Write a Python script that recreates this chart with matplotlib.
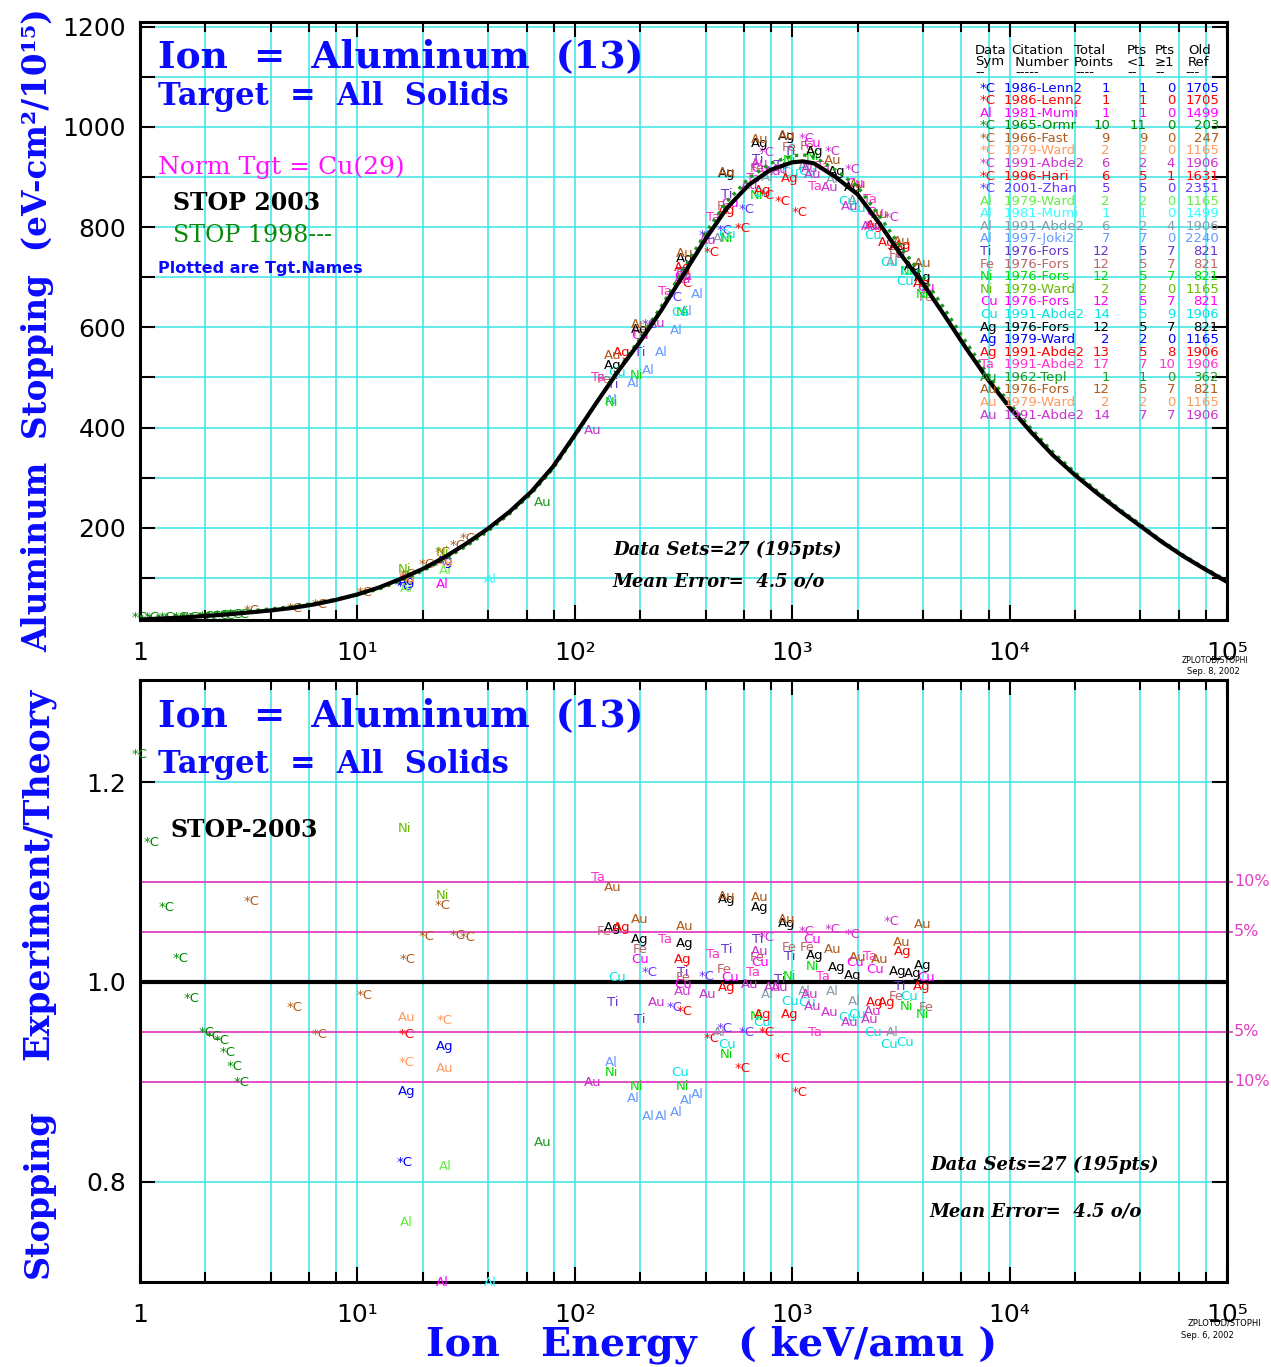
import numpy as np
import matplotlib
matplotlib.use("Agg")
import matplotlib.pyplot as plt
from matplotlib.ticker import FixedLocator, FixedFormatter, NullFormatter

# ------------------------------------------------------------------ data
# theory curves (keV/amu , eV-cm2/1e15)
theory_E = [1, 1.26, 1.58, 2, 2.51, 3.16, 3.98, 5.01, 6.31, 7.94,
            10, 12.6, 15.8, 20, 25.1, 31.6, 39.8, 50.1, 63.1, 79.4,
            100, 126, 158, 200, 251, 316, 398, 501, 631, 794,
            1000, 1120, 1260, 1580, 2000, 2510, 3160, 3980, 5010, 6310, 7940,
            10000, 12600, 15800, 20000, 25100, 31600, 39800, 50100, 63100,
            79400, 100000]
stop2003 = [17, 19, 21, 24, 27, 31, 35, 40, 47, 56,
            67, 81, 98, 118, 141, 168, 198, 232, 272, 322,
            385, 450, 512, 572, 635, 705, 775, 838, 884, 914,
            929, 931, 927, 900, 865, 808, 745, 688, 624, 558, 496,
            440, 390, 345, 305, 270, 236, 204, 172, 143,
            117, 92]
stop1998 = [22, 24, 26, 28, 31, 34, 38, 43, 49, 57,
            66, 78, 94, 114, 137, 163, 193, 228, 268, 318,
            382, 450, 515, 578, 643, 715, 787, 851, 897, 927,
            942, 944, 940, 914, 880, 823, 760, 702, 637, 570, 506,
            448, 397, 351, 310, 274, 239, 207, 174, 145,
            119, 94]

# data sets (legend table)
set_sym = ["*C", "*C", "Al", "*C", "*C", "*C", "*C", "*C", "*C", "Al", "Al",
           "Al", "Al", "Ti", "Fe", "Ni", "Ni", "Cu", "Cu", "Ag", "Ag", "Ag",
           "Ta", "Au", "Au", "Au", "Au"]
set_cite = ["1986-Lenn2", "1986-Lenn2", "1981-Mumi", "1965-Ormr", "1966-Fast",
            "1979-Ward", "1991-Abde2", "1996-Hari", "2001-Zhan", "1979-Ward",
            "1981-Mumi", "1991-Abde2", "1997-Joki2", "1976-Fors", "1976-Fors",
            "1976-Fors", "1979-Ward", "1976-Fors", "1991-Abde2", "1976-Fors",
            "1979-Ward", "1991-Abde2", "1991-Abde2", "1962-Tepl", "1976-Fors",
            "1979-Ward", "1991-Abde2"]
set_total = [1, 1, 1, 10, 9, 2, 6, 6, 5, 2, 1, 6, 7, 12, 12, 12, 2, 12, 14,
             12, 2, 13, 17, 1, 12, 2, 14]
set_lt1 = [1, 1, 1, 11, 9, 2, 2, 5, 5, 2, 1, 2, 7, 5, 5, 5, 2, 5, 5, 5, 2, 5,
           7, 1, 5, 2, 7]
set_ge1 = [0, 0, 0, 0, 0, 0, 4, 1, 0, 0, 0, 4, 0, 7, 7, 7, 0, 7, 9, 7, 0, 8,
           10, 0, 7, 0, 7]
set_ref = [1705, 1705, 1499, 203, 247, 1165, 1906, 1631, 2351, 1165, 1499,
           1906, 2240, 821, 821, 821, 1165, 821, 1906, 821, 1165, 1906, 1906,
           362, 821, 1165, 1906]
set_color = ["#0000ff", "#ff0000", "#ff00ff", "#008800", "#b05a1a", "#ff9a60",
             "#cc33cc", "#ff0000", "#6633ff", "#66ee44", "#33ffff", "#8a9aaa",
             "#6699ff", "#6633cc", "#bb6666", "#00dd00", "#66bb00", "#ff00ff",
             "#00e5e5", "#000000", "#0000ff", "#ff0000", "#ff33cc", "#229922",
             "#b05a1a", "#ff9a60", "#cc33cc"]

# measured points: energy (keV/amu) and experiment/theory ratio, per data set
pts_E = [
    [16.5],
    [16.8],
    [24.7],
    [1.0, 1.135, 1.33, 1.53, 1.73, 2.03, 2.17, 2.38, 2.54, 2.73, 2.94],
    [3.27, 5.16, 6.72, 10.8, 17.0, 20.8, 24.7, 29.0, 32.2],
    [16.8, 25.3],
    [764, 1166, 1535, 1897, 2866],
    [427, 764, 592, 904, 1082, 320],
    [221, 405, 489, 618, 288],
    [25.3, 16.8],
    [40.7],
    [771, 1141, 1535, 464, 1938, 2898],
    [148, 185, 217, 251, 294, 327, 368],
    [500, 314, 694, 877, 974, 149.5, 199, 3120],
    [137, 199, 314, 489, 687, 974, 1178, 3020, 4150],
    [974, 1243, 687, 500, 148, 193, 314, 3981, 3360],
    [16.5, 24.7],
    [199, 314, 516, 709, 1230, 1938, 2395, 4150],
    [156, 974, 1166, 731, 500, 304, 1781, 1980, 2345, 2806, 3290, 3468],
    [500, 709, 149.5, 199, 320, 944, 1268, 1603, 1897, 3981, 3055, 3581],
    [25.3, 16.8],
    [164, 314, 500, 974, 731, 2395, 2718, 3222, 3939],
    [127.6, 259, 431, 658, 1268, 2271, 1381],
    [71.2],
    [149.5, 500, 709, 199, 320, 944, 1535, 2000, 2524, 3981, 3187],
    [16.8, 25.3],
    [314, 409, 638, 813, 238, 121, 877, 1203, 1243, 1487, 2345, 1837, 2271, 709],
]
pts_R = [
    [0.820],
    [0.948],
    [0.63],
    [1.227, 1.139, 1.074, 1.023, 0.983, 0.949, 0.945, 0.941, 0.930, 0.915, 0.900],
    [1.080, 0.974, 0.948, 0.986, 1.022, 1.045, 1.076, 1.046, 1.044],
    [0.920, 0.961],
    [1.044, 1.050, 1.052, 1.047, 1.060],
    [0.944, 0.950, 0.914, 0.923, 0.890, 0.970],
    [1.009, 1.005, 0.954, 0.949, 0.974],
    [0.815, 0.760],
    [0.48],
    [0.987, 0.990, 0.990, 0.950, 0.980, 0.949],
    [0.919, 0.884, 0.865, 0.865, 0.869, 0.882, 0.887],
    [1.032, 1.009, 1.042, 1.002, 1.025, 0.979, 0.962, 0.995],
    [1.050, 1.032, 1.004, 1.012, 1.024, 1.034, 1.034, 0.985, 0.974],
    [1.005, 1.015, 0.965, 0.927, 0.910, 0.895, 0.895, 0.967, 0.975],
    [1.154, 1.086],
    [1.022, 0.997, 1.004, 1.019, 1.042, 1.019, 1.012, 1.004],
    [1.004, 0.980, 0.979, 0.959, 0.937, 0.909, 0.964, 0.967, 0.950, 0.937, 0.940, 0.985],
    [1.082, 1.075, 1.054, 1.042, 1.039, 1.059, 1.027, 1.014, 1.007, 1.017, 1.010, 1.009],
    [0.935, 0.890],
    [1.054, 1.022, 0.994, 0.967, 0.967, 0.979, 0.979, 1.030, 0.995],
    [1.104, 1.042, 1.027, 1.009, 0.950, 1.025, 1.005],
    [0.840],
    [1.094, 1.085, 1.084, 1.062, 1.055, 1.062, 1.032, 1.024, 1.022, 1.057, 1.039],
    [0.964, 0.914],
    [0.990, 0.987, 0.997, 0.994, 0.979, 0.900, 0.994, 0.987, 0.975, 0.969, 0.970, 0.959, 0.962, 1.030],
]

dev_levels = [0.05, 0.10]
x_tick_vals = [1, 10, 100, 1000, 10000, 100000]
x_tick_labels = ["1", "10\u00b9", "10\u00b2", "10\u00b3", "10\u2074", "10\u2075"]
top_ytick_vals = [200, 400, 600, 800, 1000, 1200]
bot_ytick_vals = [0.8, 1.0, 1.2]
bot_ytick_labels = ["0.8", "1.0", "1.2"]

# ------------------------------------------------------------------ figure
W, H = 1271, 1367
fig = plt.figure(figsize=(W / 100, H / 100), dpi=100)
plt.rcParams['font.family'] = ['DejaVu Sans']

def P(x, y):
    return x / W, 1 - y / H

def ftext(x, y, s, **kw):
    fx, fy = P(x, y)
    fig.text(fx, fy, s, **kw)

L, R = 140, 1227
ax1 = fig.add_axes([L / W, 1 - 620 / H, (R - L) / W, (620 - 22) / H])
ax2 = fig.add_axes([L / W, 1 - 1282 / H, (R - L) / W, (1282 - 680) / H])

GRID = "#48e6e6"
SERIF = ['DejaVu Serif', 'DejaVu Sans']
BLUE = "#0a0aff"

minor_x = [m * 10 ** d for d in range(0, 5) for m in (2, 4, 6, 8)]
for ax in (ax1, ax2):
    ax.set_xscale('log')
    ax.set_xlim(1, 1e5)
    ax.xaxis.set_major_locator(FixedLocator(x_tick_vals))
    ax.xaxis.set_major_formatter(FixedFormatter(x_tick_labels))
    ax.xaxis.set_minor_locator(FixedLocator(minor_x))
    ax.xaxis.set_minor_formatter(NullFormatter())
    for v in minor_x + x_tick_vals:
        ax.axvline(v, color=GRID, lw=1.2, zorder=0)
    ax.tick_params(axis='both', which='major', direction='in', length=11,
                   width=1.5, labelsize=18, pad=10, top=True, right=True)
    ax.tick_params(axis='x', which='major', pad=15)
    ax.tick_params(axis='x', which='minor', direction='in', length=7,
                   width=1.5, top=True)
    for sp in ax.spines.values():
        sp.set_linewidth(2.2)
    ax.set_facecolor('white')

# top panel
ax1.set_ylim(16, 1209)
ax1.yaxis.set_major_locator(FixedLocator(top_ytick_vals))
ax1.yaxis.set_minor_locator(FixedLocator([100 * k for k in range(1, 12, 2)]))
ax1.tick_params(axis='y', which='minor', direction='in', length=11, width=1.5,
                right=True)
for v in range(100, 1201, 100):
    ax1.axhline(v, color=GRID, lw=1.2, zorder=0)
ax1.plot(theory_E, stop1998, color="#1a9a1a", lw=2.4, ls=(0, (1.0, 1.5)),
         zorder=3)
ax1.plot(theory_E, stop2003, color="black", lw=3.0, zorder=4,
         solid_joinstyle='round')

logE = np.log10(theory_E)
for i, sym in enumerate(set_sym):
    E = np.array(pts_E[i], float)
    r = np.array(pts_R[i], float)
    th = np.interp(np.log10(E), logE, stop2003)
    for e, v in zip(E, r * th):
        ax1.text(e, v, sym, color=set_color[i], fontsize=9.5, ha='center',
                 va='center', zorder=2, clip_on=False)
    for e, v in zip(E, np.clip(r, 0.699, 1.3)):
        ax2.text(e, v, sym, color=set_color[i], fontsize=9.5, ha='center',
                 va='center', zorder=5, clip_on=False)

# bottom panel
ax2.set_ylim(0.7, 1.302)
ax2.yaxis.set_major_locator(FixedLocator(bot_ytick_vals))
ax2.yaxis.set_major_formatter(FixedFormatter(bot_ytick_labels))
ax2.yaxis.set_minor_locator(FixedLocator([]))
for v in (0.8, 1.2):
    ax2.axhline(v, color=GRID, lw=1.2, zorder=0)
ax2.axhline(1.0, color='black', lw=3.0, zorder=4)
MAG = "#e040c0"
for d in dev_levels:
    for s in (1, -1):
        ax2.plot([1, 1.05e5], [1 + s * d, 1 + s * d], color=MAG, lw=1.3,
                 zorder=1, clip_on=False)
        ax2.text(1.075e5, 1 + s * d, "%d%%" % round(d * 100), color=MAG,
                 fontsize=11.5, ha='left', va='center')

# ------------------------------------------------------------------ texts
for y0 in (57, 716):
    ftext(158, y0, "Ion  =  Aluminum  (13)", color=BLUE, fontsize=27,
          family=SERIF, weight='bold', ha='left', va='center')
for y0 in (97, 765):
    ftext(158, y0, "Target  =  All  Solids", color=BLUE, fontsize=22,
          family=SERIF, weight='bold', ha='left', va='center')
ftext(158, 167, "Norm Tgt = Cu(29)", color="#ff10ff", fontsize=18,
      family=SERIF, ha='left', va='center')
ftext(173, 203, "STOP 2003", color="black", fontsize=17, family=SERIF,
      weight='bold', ha='left', va='center')
ftext(173, 235, "STOP 1998---", color="#0a8a0a", fontsize=17, family=SERIF,
      ha='left', va='center')
ftext(158, 268, "Plotted are Tgt.Names", color=BLUE, fontsize=11.5,
      weight='bold', ha='left', va='center')
ftext(171, 830, "STOP-2003", color="black", fontsize=17, family=SERIF,
      weight='bold', ha='left', va='center')

for (x0, y0, y1) in ((613, 550, 582), (930, 1165, 1212)):
    ftext(x0, y0, "Data Sets=27 (195pts)", color="black", fontsize=13,
          family=SERIF, weight='bold', style='italic', ha='left', va='center')
    ftext(x0, y1, "Mean Error=  4.5 o/o", color="black", fontsize=13,
          family=SERIF, weight='bold', style='italic', ha='left', va='center')

# axis labels
ftext(38, 330, "Aluminum  Stopping  (eV-cm\u00b2/10\u00b9\u2075)", color=BLUE,
      fontsize=23.5, family=SERIF, weight='bold', rotation=90, ha='center',
      va='center')
ftext(38, 874, "Experiment/Theory", color=BLUE, fontsize=25, family=SERIF,
      weight='bold', rotation=90, ha='center', va='center')
ftext(38, 1194, "Stopping", color=BLUE, fontsize=24, family=SERIF,
      weight='bold', rotation=90, ha='center', va='center')
ftext(712, 1345, "Ion   Energy   ( keV/amu )", color=BLUE, fontsize=28.5,
      family=SERIF, weight='bold', ha='center', va='center')

# stamps
ftext(1215, 660, "ZPLOTOD/STOPHI", fontsize=5.5, ha='center', va='center')
ftext(1213, 672, "Sep. 8, 2002", fontsize=6, ha='center', va='center')
ftext(1225, 1323, "ZPLOTOD/STOPHI", fontsize=6, ha='center', va='center')
ftext(1207, 1336, "Sep. 6, 2002", fontsize=6, ha='center', va='center')

# ------------------------------------------------------------------ legend table
TF = 9.5
hdr = [(975, "Data", "Sym"), (1011, "Citation", " Number"), (1074, "Total", "Points"),
       (1127, "Pts", "<1"), (1155, "Pts", "\u22651"), (1188, "Old", "Ref")]
for x0, a, b in hdr:
    ftext(x0, 50, a, fontsize=TF, ha='left', va='center')
    ftext(x0, 62, b, fontsize=TF, ha='left', va='center')
for x0, s in ((975, "--"), (1015, "-----"), (1075, "----"), (1127, "--"),
              (1155, "--"), (1185, "---")):
    ftext(x0, 73, s, fontsize=TF, ha='left', va='center')
for i in range(len(set_sym)):
    y0 = 88 + i * 12.58
    c = set_color[i]
    ftext(980, y0, set_sym[i], color=c, fontsize=TF, ha='left', va='center')
    ftext(1004, y0, set_cite[i], color=c, fontsize=TF, ha='left', va='center')
    ftext(1110, y0, str(set_total[i]), color=c, fontsize=TF, ha='right', va='center')
    ftext(1147, y0, str(set_lt1[i]), color=c, fontsize=TF, ha='right', va='center')
    ftext(1175, y0, str(set_ge1[i]), color=c, fontsize=TF, ha='right', va='center')
    ftext(1219, y0, str(set_ref[i]), color=c, fontsize=TF, ha='right', va='center')

fig.savefig("out.png", dpi=100, facecolor='white')
